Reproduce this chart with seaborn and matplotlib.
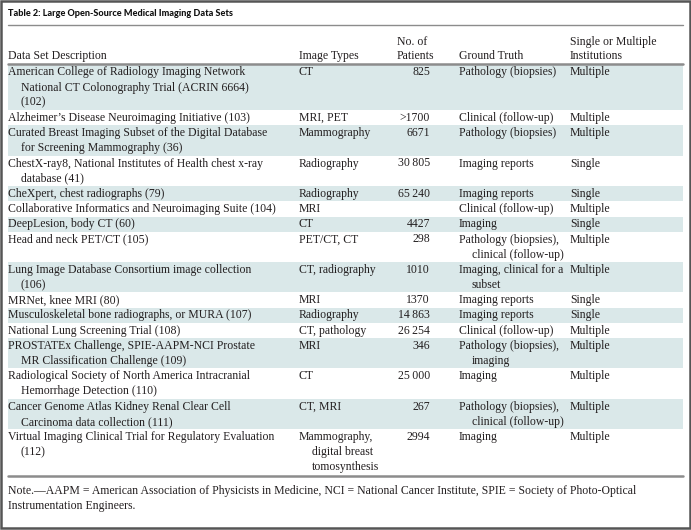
import matplotlib
matplotlib.use("Agg")
import matplotlib.pyplot as plt
import seaborn as sns

# table content, wrapped the way the reference wraps it
descriptions = [
    "American College of Radiology Imaging Network\nNational CT Colonography Trial (ACRIN 6664)\n(102)",
    "Alzheimer\u2019s Disease Neuroimaging Initiative (103)",
    "Curated Breast Imaging Subset of the Digital Database\nfor Screening Mammography (36)",
    "ChestX-ray8, National Institutes of Health chest x-ray\ndatabase (41)",
    "CheXpert, chest radiographs (79)",
    "Collaborative Informatics and Neuroimaging Suite (104)",
    "DeepLesion, body CT (60)",
    "Head and neck PET/CT (105)",
    "Lung Image Database Consortium image collection\n(106)",
    "MRNet, knee MRI (80)",
    "Musculoskeletal bone radiographs, or MURA (107)",
    "National Lung Screening Trial (108)",
    "PROSTATEx Challenge, SPIE-AAPM-NCI Prostate\nMR Classification Challenge (109)",
    "Radiological Society of North America Intracranial\nHemorrhage Detection (110)",
    "Cancer Genome Atlas Kidney Renal Clear Cell\nCarcinoma data collection (111)",
    "Virtual Imaging Clinical Trial for Regulatory Evaluation\n(112)",
]
image_types = [
    "CT", "MRI, PET", "Mammography", "Radiography", "Radiography", "MRI", "CT",
    "PET/CT, CT", "CT, radiography", "MRI", "Radiography", "CT, pathology", "MRI",
    "CT", "CT, MRI", "Mammography,\ndigital breast\ntomosynthesis",
]
patients = [825, 1700, 6671, 30805, 65240, None, 4427, 298, 1010, 1370,
            14863, 26254, 346, 25000, 267, 2994]
patients_prefix = ["", ">", "", "", "", "", "", "", "", "", "", "", "", "", "", ""]
ground_truth = [
    "Pathology (biopsies)", "Clinical (follow-up)", "Pathology (biopsies)",
    "Imaging reports", "Imaging reports", "Clinical (follow-up)", "Imaging",
    "Pathology (biopsies),\nclinical (follow-up)", "Imaging, clinical for a\nsubset",
    "Imaging reports", "Imaging reports", "Clinical (follow-up)",
    "Pathology (biopsies),\nimaging", "Imaging",
    "Pathology (biopsies),\nclinical (follow-up)", "Imaging",
]
institutions = ["Multiple", "Multiple", "Multiple", "Single", "Single", "Multiple",
                "Single", "Multiple", "Multiple", "Single", "Single", "Multiple",
                "Multiple", "Multiple", "Multiple", "Multiple"]

title = "Table 2: Large Open-Source Medical Imaging Data Sets"
headers = ["Data Set Description", "Image Types", "No. of\nPatients",
           "Ground Truth", "Single or Multiple\nInstitutions"]
note = ("Note.\u2014AAPM = American Association of Physicists in Medicine, "
        "NCI = National Cancer Institute, SPIE = Society of Photo-Optical\n"
        "Instrumentation Engineers.")


def fmt_patients(n, prefix):
    if n is None:
        return ""
    if n >= 10000:
        s = f"{n:,}".replace(",", "\u2009")
    else:
        s = str(n)
    return prefix + s


def put_lines(ax, x, y, text, line_h, indent, ha="left", **kw):
    # first line flush, the rest get a hanging indent
    for k, line in enumerate(text.split("\n")):
        dx = indent if (k > 0 and ha == "left") else 0
        ax.text(x + dx, y + k * line_h, line, ha=ha, va="baseline", **kw)


def main():
    sns.set_theme(style="white")
    plt.rcParams["font.family"] = ["Liberation Serif", "DejaVu Serif"]

    W, H = 691, 530
    fig = plt.figure(figsize=(W / 100, H / 100), dpi=100)
    ax = fig.add_axes([0, 0, 1, 1])
    ax.set_xlim(0, W)
    ax.set_ylim(H, 0)
    ax.axis("off")

    ink = "#231f20"
    rule = "#8c8c8c"
    shade = "#dae8e9"
    fs = 8.5
    line_h = 15.2
    left, right = 8, 683
    col_x = [8, 299, 430, 459, 570]
    indent = 13

    # outer frame
    fig.patches.append(plt.Rectangle((0.002, 0.003), 0.996, 0.995, transform=fig.transFigure,
                                     fill=False, edgecolor="#555555", linewidth=1.8))

    ax.text(left, 16, title, fontsize=6.6, fontweight="black", family=["Lato", "DejaVu Sans"],
            color="#111111", va="baseline")
    ax.plot([left, right], [24.5, 24.5], color=rule, lw=1.0)

    # header
    for i, h in enumerate(headers):
        n = h.count("\n") + 1
        y0 = 59 - (n - 1) * 14
        put_lines(ax, col_x[i] if i != 2 else 397, y0, h, 14, 0, fontsize=fs, color=ink)
    ax.plot([left, right], [63.5, 63.5], color=rule, lw=1.8)

    # body rows
    y = 64.5
    for r in range(len(descriptions)):
        cells = [descriptions[r], image_types[r], fmt_patients(patients[r], patients_prefix[r]),
                 ground_truth[r], institutions[r]]
        n = max(c.count("\n") + 1 for c in cells)
        h = n * line_h
        if r % 2 == 0:
            ax.axhspan(y, y + h, xmin=left / W, xmax=right / W, color=shade, lw=0)
        base = y + 10.8
        for i, c in enumerate(cells):
            if i == 2:
                put_lines(ax, col_x[i], base, c, line_h, 0, ha="right", fontsize=fs, color=ink)
            else:
                put_lines(ax, col_x[i], base, c, line_h, indent, fontsize=fs, color=ink)
        y += h

    ax.plot([left, right], [y + 1, y + 1], color=rule, lw=1.8)

    put_lines(ax, left, y + 19, note, line_h, 0, fontsize=fs, color=ink)

    fig.savefig("out.png", dpi=100)
    plt.close(fig)


if __name__ == "__main__":
    main()
